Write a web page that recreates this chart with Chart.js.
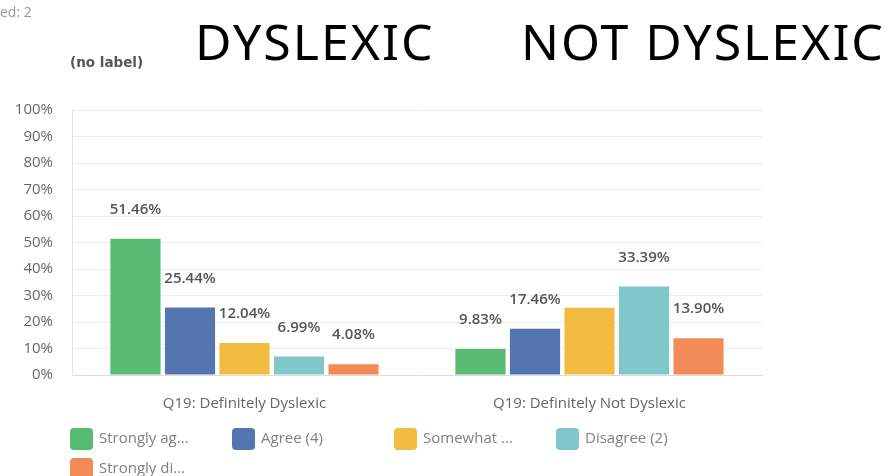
<!DOCTYPE html>
<html>
<head>
<meta charset="utf-8">
<script src="https://cdn.jsdelivr.net/npm/chart.js@4/dist/chart.umd.min.js"></script>
<style>
  html, body { margin: 0; padding: 0; background: #fff; }
  #wrap { position: relative; width: 887px; height: 476px; overflow: hidden; }
</style>
</head>
<body>
<div id="wrap"><canvas id="q19Chart" width="887" height="476"></canvas></div>
<script>
// Q19 answers, split by group
const categories = ['Q19: Definitely Dyslexic', 'Q19: Definitely Not Dyslexic'];
const answerLabels = ['Strongly ag...', 'Agree (4)', 'Somewhat ...', 'Disagree (2)', 'Strongly di...'];
const stronglyAgree = [51.46, 9.83];
const agree = [25.44, 17.46];
const somewhat = [12.04, 25.42];
const disagree = [6.99, 33.39];
const stronglyDisagree = [4.08, 13.90];
const yTicks = [0, 10, 20, 30, 40, 50, 60, 70, 80, 90, 100];
const answerColors = ['#58bb73', '#5475af', '#f1bc40', '#80c7ca', '#f28b58'];
// [dataset, category] pairs that get no value label
const noValueLabel = [[2, 1]];

const series = [stronglyAgree, agree, somewhat, disagree, stronglyDisagree];

// value labels above each bar
const valueLabels = {
  id: 'valueLabels',
  afterDatasetsDraw(chart) {
    const ctx = chart.ctx;
    ctx.save();
    ctx.font = '600 15px "Open Sans"';
    ctx.fillStyle = '#555';
    ctx.textAlign = 'center';
    ctx.textBaseline = 'middle';
    chart.data.datasets.forEach((ds, di) => {
      chart.getDatasetMeta(di).data.forEach((bar, ci) => {
        if (noValueLabel.some(p => p[0] === di && p[1] === ci)) return;
        ctx.fillText(ds.data[ci].toFixed(2) + '%', bar.x, bar.y - 29);
      });
    });
    ctx.restore();
  }
};

// headings, "(no label)" and the fixed-column legend
const decorations = {
  id: 'decorations',
  afterDraw(chart) {
    const ctx = chart.ctx;
    ctx.save();
    ctx.textBaseline = 'alphabetic';
    ctx.fillStyle = '#999';
    ctx.font = '14px "Open Sans"';
    ctx.fillText('ed: 2', 0, 17);

    ctx.fillStyle = '#000';
    ctx.font = '50px "Noto Sans"';
    ctx.letterSpacing = '2px';
    ctx.fillText('DYSLEXIC', 195, 60);
    ctx.fillText('NOT DYSLEXIC', 521, 60);
    ctx.letterSpacing = '0px';

    ctx.fillStyle = '#555';
    ctx.font = 'bold 13.5px "DejaVu Sans"';
    ctx.fillText('(no label)', 70, 67);

    ctx.font = '15px "Open Sans"';
    ctx.textBaseline = 'middle';
    chart.data.datasets.forEach((ds, i) => {
      const x = 70 + (i % 4) * 162;
      const y = 428 + Math.floor(i / 4) * 30;
      ctx.fillStyle = ds.backgroundColor;
      ctx.beginPath();
      ctx.roundRect(x, y, 23, 22, 4);
      ctx.fill();
      ctx.fillStyle = '#808080';
      ctx.fillText(ds.label, x + 29, y + 11);
    });
    ctx.restore();
  }
};

new Chart(document.getElementById('q19Chart'), {
  type: 'bar',
  data: {
    labels: categories,
    datasets: series.map((values, i) => ({
      label: answerLabels[i],
      data: values,
      backgroundColor: answerColors[i],
      categoryPercentage: 0.79,
      barPercentage: 0.92
    }))
  },
  options: {
    responsive: false,
    animation: false,
    layout: { padding: { top: 110, right: 125, bottom: 61, left: 0 } },
    plugins: {
      legend: { display: false },
      tooltip: { enabled: false }
    },
    scales: {
      x: {
        grid: { display: false, drawTicks: false },
        border: { display: true, color: '#dcdcdc' },
        ticks: { color: '#666', font: { family: 'Open Sans', size: 15 }, padding: 20 },
        afterFit(scale) { scale.height = 40; }
      },
      y: {
        min: 0,
        max: 100,
        afterBuildTicks(scale) { scale.ticks = yTicks.map(v => ({ value: v })); },
        grid: { color: '#ececec', drawTicks: false },
        border: { display: true, color: '#e4e4e4' },
        ticks: {
          color: '#666',
          font: { family: 'Open Sans', size: 15 },
          padding: 19,
          callback: v => v + '%'
        },
        afterFit(scale) { scale.width = 72; }
      }
    }
  },
  plugins: [valueLabels, decorations]
});
</script>
</body>
</html>
